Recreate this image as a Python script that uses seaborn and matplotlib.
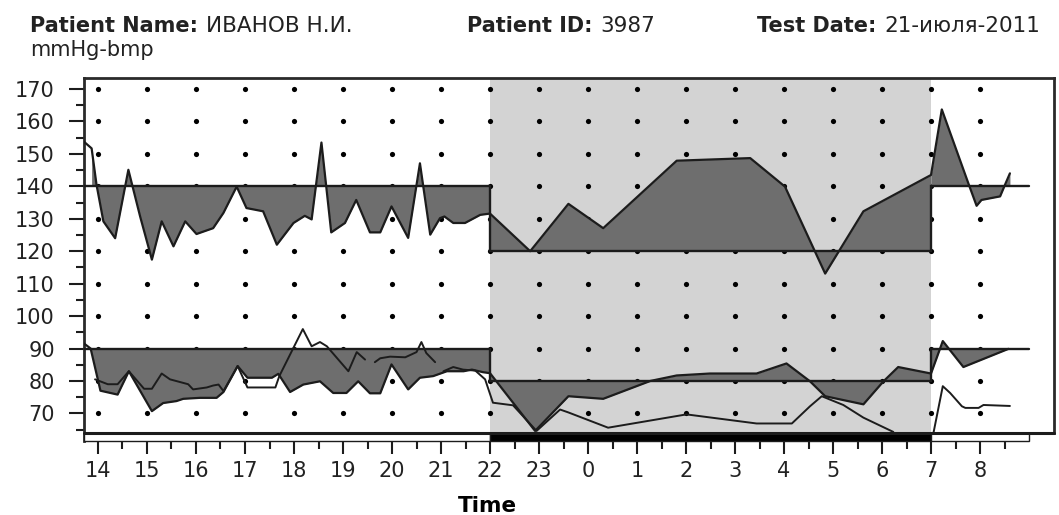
import numpy as np
import pandas as pd
import matplotlib
matplotlib.use("Agg")
import matplotlib.pyplot as plt
from matplotlib.patches import Rectangle
import seaborn as sns

# ---- ambulatory readings (clock hours; after midnight continues as 24+) ----
sys_time = [13.71, 13.87, 13.97, 14.11, 14.35, 14.62, 14.86, 15.10, 15.30, 15.54,
            15.78, 16.01, 16.35, 16.56, 16.83, 17.03, 17.37, 17.65, 17.99, 18.22,
            18.36, 18.56, 18.76, 19.04, 19.27, 19.55, 19.76, 19.99, 20.33, 20.57,
            20.78, 20.98, 21.07, 21.25, 21.49, 21.80, 22.00, 22.82, 23.60, 24.31,
            25.81, 27.31, 28.02, 28.84, 29.62, 31.00, 31.22, 31.76, 31.93, 32.03,
            32.41, 32.51, 32.61]
sys_mmhg = [153.8, 151.7, 140.5, 129.2, 124.0, 145.1, 130.7, 117.4, 129.2, 121.5,
            129.2, 125.3, 127.1, 131.8, 139.9, 133.3, 132.3, 122.0, 128.7, 130.9,
            129.8, 153.5, 125.8, 128.7, 135.8, 125.8, 125.8, 133.8, 124.1, 147.1,
            125.1, 130.2, 130.7, 128.7, 128.7, 131.2, 131.6, 120.0, 134.6, 127.1,
            147.9, 148.7, 139.9, 113.1, 132.3, 143.5, 163.7, 141.0, 134.0, 135.8,
            136.9, 140.5, 144.0]

dia_time = [13.71, 13.85, 14.05, 14.40, 14.63, 15.10, 15.33, 15.60, 15.74, 16.08,
            16.42, 16.56, 16.85, 17.05, 17.55, 17.68, 17.92, 18.19, 18.53, 18.80,
            19.07, 19.31, 19.55, 19.76, 19.99, 20.33, 20.57, 20.84, 21.12, 21.46,
            21.63, 21.86, 22.00, 22.92, 23.60, 24.31, 25.27, 25.81, 26.49, 27.44,
            28.05, 28.53, 28.84, 29.62, 30.03, 30.33, 31.00, 31.24, 31.66, 32.58]
dia_mmhg = [91.6, 90.0, 77.0, 75.8, 83.0, 70.7, 73.2, 73.8, 74.5, 74.8,
            74.8, 76.6, 84.6, 81.0, 81.0, 82.2, 76.6, 78.9, 79.9, 76.3,
            76.3, 79.9, 76.2, 76.2, 85.1, 77.4, 81.0, 81.5, 83.0, 83.0,
            83.5, 82.7, 82.4, 64.6, 75.3, 74.5, 80.0, 81.7, 82.3, 82.3,
            85.4, 79.9, 75.3, 72.8, 79.9, 84.3, 82.3, 92.3, 84.3, 89.9]

# pulse; NaN marks a break in the recording
hr_time = [13.94, 14.20, 14.40, 14.63, 14.94, 15.10, 15.30, 15.47, 15.84, 15.94,
           16.22, 16.35, 16.46, 16.56, 16.85, 17.05, 17.62, 17.70, 18.18, 18.36,
           18.53, 18.67, 19.11, 19.28, 19.45, np.nan, 19.65, 19.76, 19.96, 20.27,
           20.50, 20.60, 20.70, 20.88, np.nan, 21.05, 21.25, 21.45, 21.70, 21.90,
           22.06, 22.47, 22.95, 23.43, 23.60, 24.41, 26.01, 27.44, 28.16, 28.53,
           28.77, 29.21, 29.62, 30.23, np.nan, 31.05, 31.24, 31.39, 31.63, 31.70,
           31.97, 32.07, 32.61]
hr_bpm = [80.5, 79.0, 79.0, 83.0, 77.6, 77.6, 82.3, 80.5, 79.0, 77.4,
          78.0, 78.6, 78.9, 76.9, 84.6, 78.0, 78.0, 81.5, 96.0, 90.7,
          92.0, 90.7, 83.0, 88.9, 86.6, np.nan, 85.8, 87.0, 87.5, 87.3,
          88.9, 92.0, 88.6, 85.8, np.nan, 83.0, 84.3, 83.5, 83.2, 80.5,
          73.3, 72.5, 64.6, 71.2, 70.3, 65.6, 69.7, 66.9, 66.9, 72.2,
          75.3, 72.6, 68.7, 64.3, np.nan, 64.0, 78.4, 76.3, 72.2, 71.7,
          71.7, 72.6, 72.3]

night_start, night_end, report_end = 22.0, 31.0, 33.0
sys_limits = {"day": 140, "night": 120}
dia_limits = {"day": 90, "night": 80}

hour_ticks = list(range(14, 33))
hour_labels = [str(h % 24) for h in hour_ticks]
value_ticks = list(range(70, 171, 10))

patient_name = "ИВАНОВ Н.И."
patient_id = "3987"
test_date = "21-июля-2011"

# ---- styling ----
ink = "#1c1c1c"
text_ink = "#222222"
fill_grey = "#6e6e6e"
night_grey = "#d3d3d3"

sns.set_theme(style="white")
plt.rcParams["font.family"] = ["DejaVu Sans"]

fig = plt.figure(figsize=(10.59, 5.15), dpi=100)
ax = fig.add_axes([0.0793, 0.1437, 0.9160, 0.7049])

x_lo, x_hi = 13.714, 33.51
y_lo, y_frame, y_hi = 61.5, 63.9, 173.4
ax.set_xlim(x_lo, x_hi)
ax.set_ylim(y_lo, y_hi)

# night period shading
ax.fill_between([night_start, night_end], y_frame, y_hi, color=night_grey, lw=0, zorder=0)

# reference dots on every hour / 10 mmHg
gx, gy = np.meshgrid(hour_ticks, value_ticks)
grid = pd.DataFrame({"t": gx.ravel(), "v": gy.ravel()})
sns.scatterplot(data=grid, x="t", y="v", s=14, color="black", linewidth=0, ax=ax, zorder=1)

segments = [(x_lo, night_start, "day"), (night_start, night_end, "night"),
            (night_end, report_end, "day")]


def shade_to_limit(times, values, limits):
    t = np.asarray(times)
    v = np.asarray(values)
    for a, b, period in segments:
        m = (t >= a) & (t <= b)
        ax.fill_between(t[m], v[m], limits[period], color=fill_grey, lw=0, zorder=2)
    # threshold line, stepping at the day/night boundaries
    xs, ys = [], []
    for a, b, period in segments:
        xs += [a, b]
        ys += [limits[period], limits[period]]
    ax.plot(xs, ys, color=ink, lw=1.7, zorder=3, solid_joinstyle="miter")


shade_to_limit(sys_time, sys_mmhg, sys_limits)
shade_to_limit(dia_time, dia_mmhg, dia_limits)

sns.lineplot(x=sys_time, y=sys_mmhg, estimator=None, sort=False, color=ink, lw=1.6, ax=ax, zorder=4)
sns.lineplot(x=dia_time, y=dia_mmhg, estimator=None, sort=False, color=ink, lw=1.6, ax=ax, zorder=4)

hr = pd.DataFrame({"t": hr_time, "v": hr_bpm})
hr["run"] = hr["v"].isna().cumsum()
hr = hr.dropna()
sns.lineplot(data=hr, x="t", y="v", units="run", estimator=None, sort=False,
             color=ink, lw=1.4, ax=ax, zorder=4)

# day/night bar under the plotting frame
for a, b, period in segments:
    ax.add_patch(Rectangle((a, y_lo), b - a, y_frame - y_lo,
                           facecolor="black" if period == "night" else "white",
                           edgecolor=ink, lw=1.0, clip_on=False, zorder=5))
ax.plot([x_lo, x_hi], [y_frame, y_frame], color=ink, lw=2.2, clip_on=False, zorder=6)

# frame
for side in ["left", "top", "right"]:
    ax.spines[side].set_color("#2a2a2a")
    ax.spines[side].set_linewidth(2.0)
ax.spines["bottom"].set_visible(False)
ax.spines["right"].set_bounds(y_frame, y_hi)

ax.set_xticks(hour_ticks)
ax.set_xticklabels(hour_labels)
ax.set_xticks(np.arange(14.5, 33, 1.0), minor=True)
ax.set_yticks(value_ticks)
ax.set_yticks(np.arange(65, 170, 10), minor=True)
ax.tick_params(axis="both", which="both", direction="out", colors=ink, width=1.5,
               labelcolor=text_ink, labelsize=15)
ax.tick_params(axis="x", which="both", bottom=True, top=False)
ax.tick_params(axis="y", which="both", left=True, right=False)
ax.tick_params(axis="x", which="major", length=9.5, pad=5)
ax.tick_params(axis="x", which="minor", length=6)
ax.tick_params(axis="y", which="major", length=11, pad=10)
ax.tick_params(axis="y", which="minor", length=6)
ax.set_xlabel("")
ax.set_ylabel("")

# header: bold key followed by its value
W, H = 1059, 515
header = [(30, "Patient Name:", patient_name),
          (467, "Patient ID:", patient_id),
          (757, "Test Date:", test_date)]
for x_px, key, value in header:
    lab = fig.text(x_px / W, 1 - 36 / H, key, fontsize=15, fontweight="bold",
                   color=text_ink, ha="left", va="bottom")
    ax.annotate(value, xy=(1, 0), xycoords=lab, xytext=(5.5, 0), textcoords="offset points",
                fontsize=15.5, color=text_ink, ha="left", va="bottom")

fig.text(30 / W, 1 - 60 / H, "mmHg-bmp", fontsize=15, color=text_ink, ha="left", va="bottom")
fig.text(487 / W, 1 - 496 / H, "Time", fontsize=15.5, fontweight="bold", color="black",
         ha="center", va="top")

fig.savefig("out.png", dpi=100)
